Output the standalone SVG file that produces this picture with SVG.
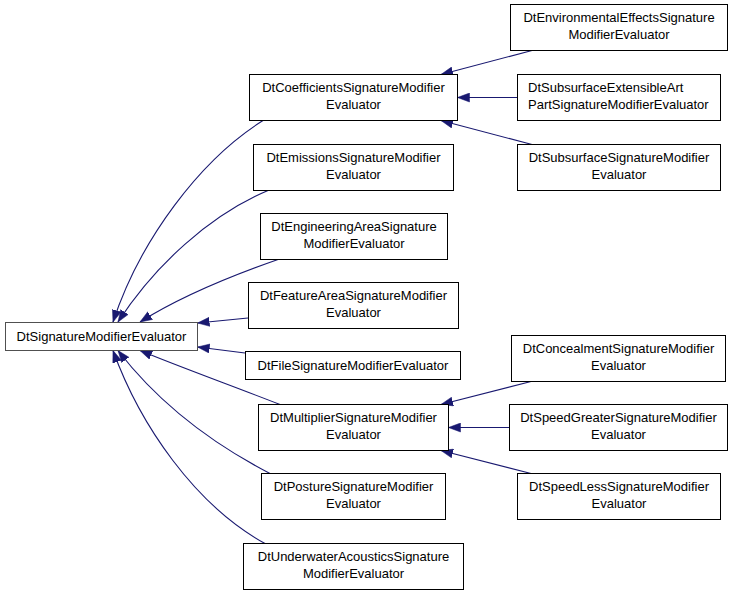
<svg xmlns="http://www.w3.org/2000/svg" width="733" height="595" viewBox="0 0 733 595">
<style>
.bg{fill:#ffffff}
.node rect{fill:#ffffff;stroke:#000000;stroke-width:1}
#root rect{stroke:#505050}
.node text{font-family:"Liberation Sans",Arial,sans-serif;font-size:13px;fill:#000000;text-anchor:middle}
.node text.l{text-anchor:start}
.edge{fill:none;stroke:#191970;stroke-width:1.1;marker-end:url(#arr)}
</style>
<defs>
<marker id="arr" viewBox="0 0 12 10" refX="12" refY="5" markerWidth="12" markerHeight="10" markerUnits="userSpaceOnUse" orient="auto">
<path d="M0,0.5 L12,5 L0,9.5 z" fill="#191970" stroke="#191970" stroke-width="0.5"/>
</marker>
</defs>
<rect class="bg" x="0" y="0" width="733" height="595"/>
<g id="connectors">
<path class="edge" d="M532,50.5 L441,74.5"/>
<path class="edge" d="M517,97.5 L457.5,97.5"/>
<path class="edge" d="M532,144.5 L441,120.5"/>
<path class="edge" d="M531,381.5 L441,404.5"/>
<path class="edge" d="M509,427.5 L448.5,427.5"/>
<path class="edge" d="M531,473.5 L441,450.5"/>
<path class="edge" d="M263,120.5 C200,160 140,240 113,322"/>
<path class="edge" d="M268,190.5 C210,215 155,265 118,322"/>
<path class="edge" d="M278,259.5 C225,278 175,300 140,322"/>
<path class="edge" d="M248,318 L197.5,323"/>
<path class="edge" d="M245,353 L197.5,347"/>
<path class="edge" d="M280,404.5 C230,385 180,367 140,350.5"/>
<path class="edge" d="M270,473.5 C215,445 160,405 118,350.5"/>
<path class="edge" d="M265,543.5 C195,505 140,425 113,350.5"/>
</g>
<g id="root" class="node"><rect x="5.5" y="322.5" width="192" height="28"/><text x="101.5" y="341">DtSignatureModifierEvaluator</text></g>
<g id="coefficients" class="node"><rect x="249.5" y="74.5" width="208" height="46"/><text x="353.5" y="92">DtCoefficientsSignatureModifier</text><text x="353.5" y="108.5">Evaluator</text></g>
<g id="emissions" class="node"><rect x="253.5" y="144.5" width="200" height="46"/><text x="353.5" y="162">DtEmissionsSignatureModifier</text><text x="353.5" y="178.5">Evaluator</text></g>
<g id="engineering" class="node"><rect x="260.5" y="213.5" width="187" height="46"/><text x="354" y="231">DtEngineeringAreaSignature</text><text x="354" y="247.5">ModifierEvaluator</text></g>
<g id="feature" class="node"><rect x="248.5" y="282.5" width="210" height="46"/><text x="353.5" y="300">DtFeatureAreaSignatureModifier</text><text x="353.5" y="316.5">Evaluator</text></g>
<g id="file" class="node"><rect x="245.5" y="351.5" width="215" height="28"/><text x="353" y="370">DtFileSignatureModifierEvaluator</text></g>
<g id="multiplier" class="node"><rect x="258.5" y="404.5" width="190" height="46"/><text x="353.5" y="422">DtMultiplierSignatureModifier</text><text x="353.5" y="438.5">Evaluator</text></g>
<g id="posture" class="node"><rect x="261.5" y="473.5" width="184" height="46"/><text x="353.5" y="491">DtPostureSignatureModifier</text><text x="353.5" y="507.5">Evaluator</text></g>
<g id="underwater" class="node"><rect x="243.5" y="543.5" width="220" height="46"/><text x="353.5" y="561">DtUnderwaterAcousticsSignature</text><text x="353.5" y="577.5">ModifierEvaluator</text></g>
<g id="environmental" class="node"><rect x="510.5" y="4.5" width="217" height="46"/><text x="619" y="22">DtEnvironmentalEffectsSignature</text><text x="619" y="38.5">ModifierEvaluator</text></g>
<g id="subsurfaceext" class="node"><rect x="517.5" y="74.5" width="203" height="46"/><text class="l" x="528" y="92">DtSubsurfaceExtensibleArt</text><text class="l" x="528" y="108.5">PartSignatureModifierEvaluator</text></g>
<g id="subsurface" class="node"><rect x="517.5" y="144.5" width="203" height="46"/><text x="619" y="162">DtSubsurfaceSignatureModifier</text><text x="619" y="178.5">Evaluator</text></g>
<g id="concealment" class="node"><rect x="511.5" y="335.5" width="214" height="46"/><text x="618.5" y="353">DtConcealmentSignatureModifier</text><text x="618.5" y="369.5">Evaluator</text></g>
<g id="speedgreater" class="node"><rect x="509.5" y="404.5" width="218" height="46"/><text x="618.5" y="422">DtSpeedGreaterSignatureModifier</text><text x="618.5" y="438.5">Evaluator</text></g>
<g id="speedless" class="node"><rect x="517.5" y="473.5" width="203" height="46"/><text x="619" y="491">DtSpeedLessSignatureModifier</text><text x="619" y="507.5">Evaluator</text></g>
</svg>
